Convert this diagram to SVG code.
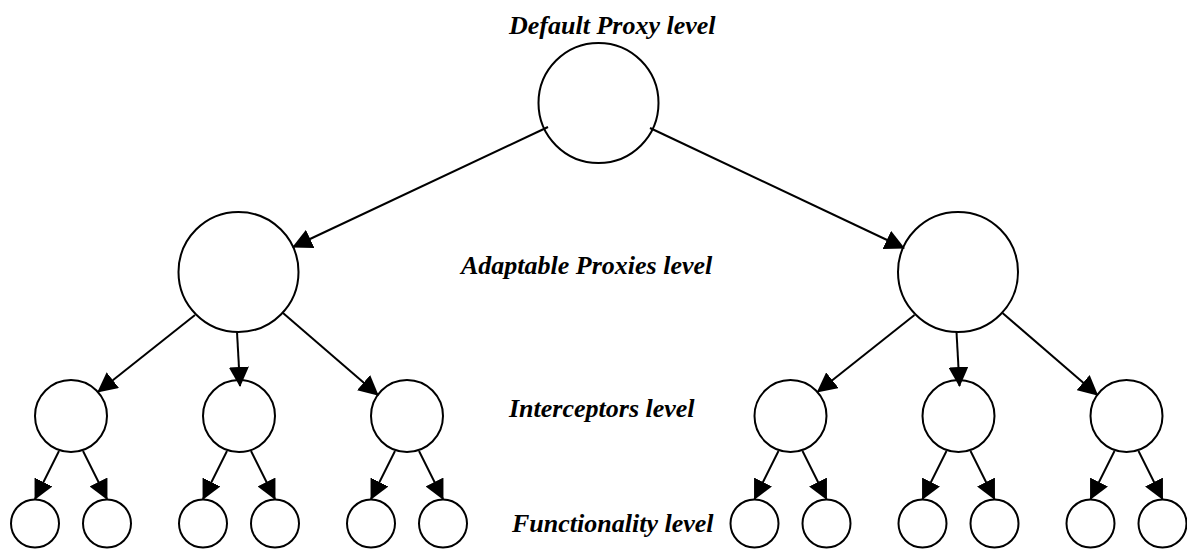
<svg xmlns="http://www.w3.org/2000/svg" width="1187" height="549" viewBox="0 0 1187 549">
<style>
  .n { fill: #fff; stroke: #000; stroke-width: 2; }
  .c { stroke: #000; stroke-width: 2; fill: none; marker-end: url(#ah); }
  .lbl { font-family: "Liberation Serif", "Times New Roman", serif; font-size: 26px; font-weight: bold; font-style: italic; fill: #000; }
</style>
<defs>
  <marker id="ah" viewBox="0 0 20 20" refX="19" refY="10" markerWidth="20" markerHeight="20" markerUnits="userSpaceOnUse" orient="auto">
    <path d="M0,0 L20,10 L0,20 z" fill="#000"/>
  </marker>
</defs>
<rect width="1187" height="549" fill="#fff"/>
<g id="labels">
  <text class="lbl" x="509" y="34">Default Proxy level</text>
  <text class="lbl" x="461" y="274">Adaptable Proxies level</text>
  <text class="lbl" x="509" y="417">Interceptors level</text>
  <text class="lbl" x="512" y="532">Functionality level</text>
</g>
<g id="nodes">
  <g id="default-proxy"><circle class="n" cx="598.5" cy="103" r="60"/></g>
  <g id="adaptable-1"><circle class="n" cx="238.5" cy="272" r="60"/></g>
  <g id="adaptable-2"><circle class="n" cx="958" cy="272" r="60"/></g>
  <g id="interceptor-1"><circle class="n" cx="71" cy="416" r="36"/></g>
  <g id="interceptor-2"><circle class="n" cx="239" cy="416" r="36"/></g>
  <g id="interceptor-3"><circle class="n" cx="407" cy="416" r="36"/></g>
  <g id="interceptor-4"><circle class="n" cx="790.5" cy="416" r="36"/></g>
  <g id="interceptor-5"><circle class="n" cx="958.5" cy="416" r="36"/></g>
  <g id="interceptor-6"><circle class="n" cx="1126.5" cy="416" r="36"/></g>
  <g id="func-1"><circle class="n" cx="35" cy="523.5" r="24"/></g>
  <g id="func-2"><circle class="n" cx="107" cy="523.5" r="24"/></g>
  <g id="func-3"><circle class="n" cx="203" cy="523.5" r="24"/></g>
  <g id="func-4"><circle class="n" cx="275" cy="523.5" r="24"/></g>
  <g id="func-5"><circle class="n" cx="371" cy="523.5" r="24"/></g>
  <g id="func-6"><circle class="n" cx="443" cy="523.5" r="24"/></g>
  <g id="func-7"><circle class="n" cx="754.5" cy="523.5" r="24"/></g>
  <g id="func-8"><circle class="n" cx="826.5" cy="523.5" r="24"/></g>
  <g id="func-9"><circle class="n" cx="922.5" cy="523.5" r="24"/></g>
  <g id="func-10"><circle class="n" cx="994.5" cy="523.5" r="24"/></g>
  <g id="func-11"><circle class="n" cx="1090.5" cy="523.5" r="24"/></g>
  <g id="func-12"><circle class="n" cx="1162.5" cy="523.5" r="24"/></g>
</g>
<g id="connectors">
  <line class="c" x1="548" y1="127" x2="293" y2="247"/>
  <line class="c" x1="650" y1="128" x2="904" y2="248"/>
  <line class="c" x1="195" y1="315" x2="98" y2="392"/>
  <line class="c" x1="237" y1="332" x2="240" y2="386"/>
  <line class="c" x1="283" y1="313" x2="378" y2="395"/>
  <line class="c" x1="914.5" y1="315" x2="817.5" y2="392"/>
  <line class="c" x1="956.5" y1="332" x2="959.5" y2="386"/>
  <line class="c" x1="1002.5" y1="313" x2="1097.5" y2="395"/>
  <line class="c" x1="59" y1="451" x2="35" y2="499"/>
  <line class="c" x1="83" y1="451" x2="107" y2="499"/>
  <line class="c" x1="227" y1="451" x2="203" y2="499"/>
  <line class="c" x1="251" y1="451" x2="275" y2="499"/>
  <line class="c" x1="395" y1="451" x2="371" y2="499"/>
  <line class="c" x1="419" y1="451" x2="443" y2="499"/>
  <line class="c" x1="778.5" y1="451" x2="754.5" y2="499"/>
  <line class="c" x1="802.5" y1="451" x2="826.5" y2="499"/>
  <line class="c" x1="946.5" y1="451" x2="922.5" y2="499"/>
  <line class="c" x1="970.5" y1="451" x2="994.5" y2="499"/>
  <line class="c" x1="1114.5" y1="451" x2="1090.5" y2="499"/>
  <line class="c" x1="1138.5" y1="451" x2="1162.5" y2="499"/>
</g>
</svg>
